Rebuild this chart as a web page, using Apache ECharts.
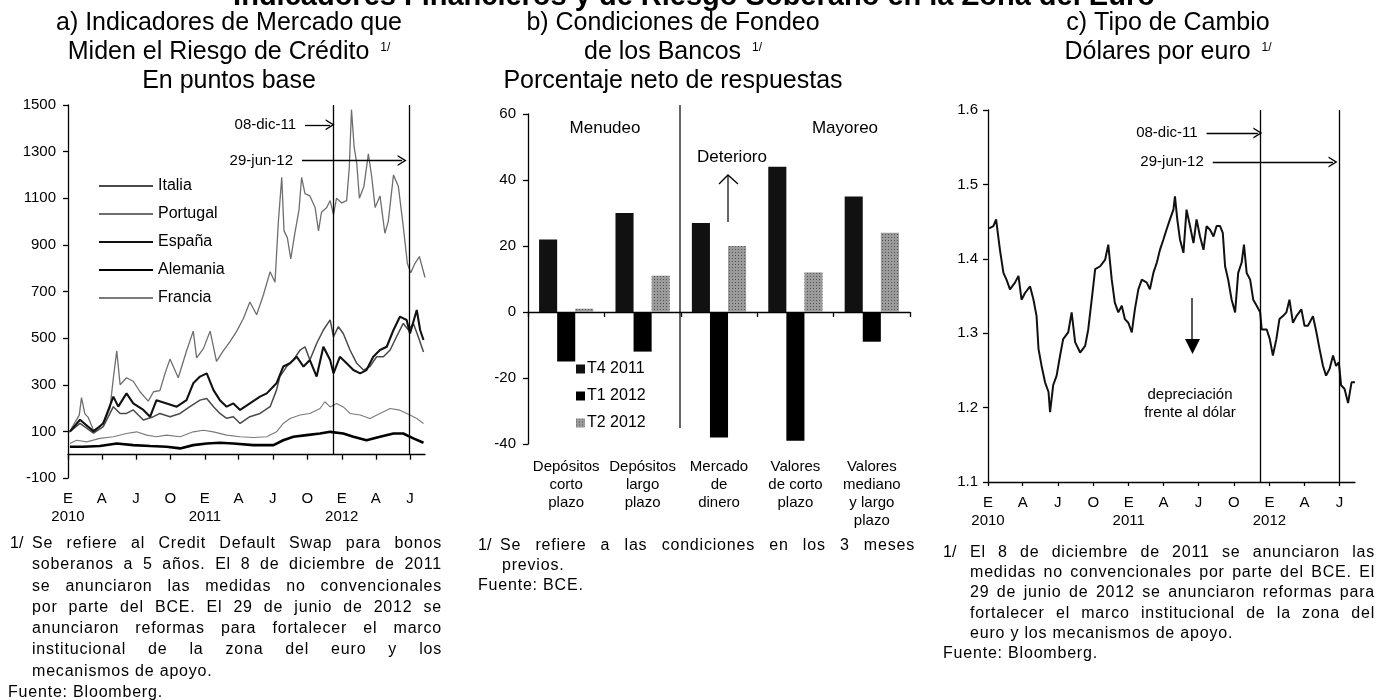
<!DOCTYPE html>
<html lang="es">
<head>
<meta charset="utf-8">
<title>Indicadores Financieros y de Riesgo Soberano en la Zona del Euro</title>
<script src="https://cdn.jsdelivr.net/npm/echarts@6.0.0/dist/echarts.min.js"></script>
<style>
  html, body { margin: 0; padding: 0; background: #fff; }
  #grafica { position: absolute; left: 0; top: 0; width: 1389px; height: 700px; }
  .nota { position: absolute; font-family: 'Liberation Sans', Arial, sans-serif; font-size: 16px; letter-spacing: 0.8px; color: #000; }
  .nota > div { text-align: justify; text-align-last: justify; }
  .nota > div.fin { text-align-last: left; }
  .nota .num { display: inline-block; width: 22px; letter-spacing: 0; }
</style>
</head>
<body>
<div id="grafica"></div>

<div class="nota" style="left:10px; top:532px; width:432px; line-height:21.3px">
  <div><span class="num">1/</span>Se refiere al Credit Default Swap para bonos</div>
  <div style="padding-left:22px">soberanos a 5 años. El 8 de diciembre de 2011</div>
  <div style="padding-left:22px">se anunciaron las medidas no convencionales</div>
  <div style="padding-left:22px">por parte del BCE. El 29 de junio de 2012 se</div>
  <div style="padding-left:22px">anunciaron reformas para fortalecer el marco</div>
  <div style="padding-left:22px">institucional de la zona del euro y los</div>
  <div class="fin" style="padding-left:22px">mecanismos de apoyo.</div>
  <div class="fin" style="margin-left:-2px">Fuente: Bloomberg.</div>
</div>

<div class="nota" style="left:478px; top:535px; width:437px; line-height:20px">
  <div><span class="num">1/</span>Se refiere a las condiciones en los 3 meses</div>
  <div class="fin" style="padding-left:24px">previos.</div>
  <div class="fin">Fuente: BCE.</div>
</div>

<div class="nota" style="left:943px; top:542px; width:432px; line-height:20.2px">
  <div><span class="num" style="width:27px">1/</span>El 8 de diciembre de 2011 se anunciaron las</div>
  <div style="padding-left:27px">medidas no convencionales por parte del BCE. El</div>
  <div style="padding-left:27px">29 de junio de 2012 se anunciaron reformas para</div>
  <div style="padding-left:27px">fortalecer el marco institucional de la zona del</div>
  <div class="fin" style="padding-left:27px">euro y los mecanismos de apoyo.</div>
  <div class="fin">Fuente: Bloomberg.</div>
</div>

<script>
// a) CDS soberanos a 5 años, puntos base
const portugal = [
  ['2010-01-04', 95], ['2010-01-20', 140], ['2010-01-31', 170], ['2010-02-06', 245], ['2010-02-15', 175],
  ['2010-02-24', 160], ['2010-03-10', 105], ['2010-03-27', 120], ['2010-04-10', 150], ['2010-04-23', 200],
  ['2010-05-02', 330], ['2010-05-11', 445], ['2010-05-20', 300], ['2010-06-06', 330], ['2010-06-24', 315],
  ['2010-07-12', 270], ['2010-08-03', 230], ['2010-08-17', 270], ['2010-09-03', 275], ['2010-09-17', 350],
  ['2010-09-30', 410], ['2010-10-22', 330], ['2010-11-13', 445], ['2010-12-01', 530], ['2010-12-10', 415],
  ['2010-12-28', 455], ['2011-01-15', 530], ['2011-02-01', 400], ['2011-02-19', 445], ['2011-03-09', 485],
  ['2011-03-27', 530], ['2011-04-14', 585], ['2011-05-01', 655], ['2011-05-19', 600], ['2011-06-06', 685],
  ['2011-06-24', 785], ['2011-07-07', 740], ['2011-07-16', 1000], ['2011-07-25', 1190], ['2011-07-31', 960],
  ['2011-08-09', 930], ['2011-08-18', 840], ['2011-08-29', 950], ['2011-09-09', 1050], ['2011-09-16', 1190],
  ['2011-09-25', 1120], ['2011-10-08', 1110], ['2011-10-22', 1060], ['2011-10-31', 960], ['2011-11-08', 1040],
  ['2011-11-22', 1060], ['2011-12-01', 1090], ['2011-12-10', 1030], ['2011-12-18', 1100], ['2012-01-01', 1080],
  ['2012-01-14', 1090], ['2012-01-21', 1230], ['2012-01-27', 1480], ['2012-02-03', 1320], ['2012-02-10', 1250],
  ['2012-02-17', 1100], ['2012-02-29', 1150], ['2012-03-12', 1290], ['2012-03-21', 1190], ['2012-03-30', 1060],
  ['2012-04-12', 1110], ['2012-04-25', 950], ['2012-05-04', 1000], ['2012-05-18', 1200], ['2012-05-31', 1150],
  ['2012-06-13', 980], ['2012-06-24', 820], ['2012-07-03', 780], ['2012-07-14', 820], ['2012-07-26', 850],
  ['2012-08-10', 760]
]
const italia = [
  ['2010-01-06', 99], ['2010-02-02', 134], ['2010-03-10', 92], ['2010-04-05', 120], ['2010-05-02', 206],
  ['2010-05-20', 177], ['2010-06-06', 177], ['2010-06-24', 192], ['2010-07-21', 149], ['2010-08-17', 163],
  ['2010-09-03', 177], ['2010-09-30', 163], ['2010-10-27', 177], ['2010-11-22', 206], ['2010-12-19', 234],
  ['2011-01-06', 241], ['2011-01-24', 206], ['2011-02-10', 177], ['2011-02-28', 156], ['2011-03-18', 163],
  ['2011-04-05', 134], ['2011-05-01', 163], ['2011-05-28', 177], ['2011-06-24', 206], ['2011-07-11', 277],
  ['2011-07-20', 335], ['2011-08-07', 378], ['2011-08-25', 406], ['2011-09-12', 449], ['2011-09-25', 463],
  ['2011-10-08', 406], ['2011-10-26', 477], ['2011-11-13', 535], ['2011-12-01', 578], ['2011-12-10', 506],
  ['2011-12-23', 549], ['2012-01-05', 520], ['2012-01-23', 449], ['2012-02-10', 392], ['2012-02-28', 363],
  ['2012-03-16', 378], ['2012-04-03', 420], ['2012-04-21', 420], ['2012-05-09', 449], ['2012-05-26', 506],
  ['2012-06-13', 563], ['2012-06-27', 535], ['2012-07-10', 563], ['2012-07-23', 506], ['2012-08-06', 440]
]
const espana = [
  ['2010-01-06', 99], ['2010-02-02', 150], ['2010-03-10', 100], ['2010-04-05', 134], ['2010-05-02', 249],
  ['2010-05-15', 206], ['2010-06-06', 263], ['2010-06-24', 220], ['2010-07-21', 192], ['2010-08-08', 163],
  ['2010-08-25', 234], ['2010-09-21', 220], ['2010-10-18', 206], ['2010-11-13', 234], ['2010-12-01', 306],
  ['2010-12-19', 335], ['2011-01-06', 349], ['2011-01-24', 277], ['2011-02-10', 234], ['2011-02-28', 206],
  ['2011-03-18', 220], ['2011-04-05', 192], ['2011-05-01', 220], ['2011-05-28', 249], ['2011-06-15', 263],
  ['2011-07-11', 306], ['2011-07-29', 378], ['2011-08-16', 392], ['2011-09-03', 420], ['2011-09-21', 378],
  ['2011-10-08', 406], ['2011-10-26', 335], ['2011-11-13', 463], ['2011-12-01', 406], ['2011-12-10', 349],
  ['2011-12-27', 420], ['2012-01-14', 392], ['2012-02-01', 363], ['2012-02-19', 349], ['2012-03-07', 363],
  ['2012-03-25', 420], ['2012-04-12', 449], ['2012-04-30', 463], ['2012-05-18', 535], ['2012-06-04', 592],
  ['2012-06-22', 578], ['2012-07-01', 520], ['2012-07-19', 621], ['2012-07-28', 535], ['2012-08-06', 492]
]
const alemania = [
  ['2010-01-06', 34], ['2010-02-10', 34], ['2010-03-27', 37], ['2010-05-11', 48], ['2010-06-24', 41],
  ['2010-08-08', 37], ['2010-09-21', 34], ['2010-10-27', 27], ['2010-12-01', 41], ['2011-01-06', 48],
  ['2011-02-10', 51], ['2011-03-18', 48], ['2011-05-10', 41], ['2011-07-03', 41], ['2011-07-29', 62],
  ['2011-08-25', 77], ['2011-09-29', 84], ['2011-11-04', 91], ['2011-12-01', 98], ['2012-01-05', 91],
  ['2012-02-01', 77], ['2012-03-07', 62], ['2012-04-12', 77], ['2012-05-18', 91], ['2012-06-13', 91],
  ['2012-07-10', 70], ['2012-08-06', 51]
]
const francia = [
  ['2010-01-06', 48], ['2010-01-24', 62], ['2010-02-20', 55], ['2010-03-27', 70], ['2010-05-02', 77],
  ['2010-06-06', 91], ['2010-07-03', 98], ['2010-07-30', 84], ['2010-08-25', 77], ['2010-09-21', 84],
  ['2010-10-27', 77], ['2010-12-01', 98], ['2010-12-28', 105], ['2011-01-24', 98], ['2011-02-28', 84],
  ['2011-04-05', 77], ['2011-05-10', 74], ['2011-06-15', 77], ['2011-07-11', 98], ['2011-07-29', 134],
  ['2011-08-16', 155], ['2011-09-12', 170], ['2011-10-08', 177], ['2011-11-04', 198], ['2011-11-17', 227],
  ['2011-12-01', 205], ['2011-12-18', 220], ['2012-01-05', 205], ['2012-01-23', 177], ['2012-02-19', 170],
  ['2012-03-16', 155], ['2012-04-12', 177], ['2012-05-09', 198], ['2012-06-04', 191], ['2012-07-01', 170],
  ['2012-07-19', 155], ['2012-08-06', 134]
]

// b) Condiciones de fondeo, porcentaje neto de respuestas
const categoriasFondeo = ['Depósitos\ncorto\nplazo', 'Depósitos\nlargo\nplazo', 'Mercado\nde\ndinero', 'Valores\nde corto\nplazo', 'Valores\nmediano\ny largo\nplazo']
const t4_2011 = [22, 30, 27, 44, 35]
const t1_2012 = [-15, -12, -38, -39, -9]
const t2_2012 = [1, 11, 20, 12, 24]

// c) Dólares por euro
const eurUsd = [
  ['2010-01-04', 1.441], ['2010-01-06', 1.439], ['2010-01-15', 1.444], ['2010-01-22', 1.453], ['2010-02-01', 1.412],
  ['2010-02-10', 1.381], ['2010-02-18', 1.372], ['2010-02-27', 1.359], ['2010-03-12', 1.368], ['2010-03-21', 1.377],
  ['2010-03-29', 1.345], ['2010-04-07', 1.354], ['2010-04-20', 1.363], ['2010-04-29', 1.345], ['2010-05-07', 1.323],
  ['2010-05-12', 1.279], ['2010-05-20', 1.256], ['2010-05-29', 1.234], ['2010-06-07', 1.221], ['2010-06-11', 1.194],
  ['2010-06-19', 1.230], ['2010-06-28', 1.243], ['2010-07-07', 1.270], ['2010-07-15', 1.292], ['2010-07-28', 1.301],
  ['2010-08-06', 1.328], ['2010-08-15', 1.288], ['2010-08-28', 1.274], ['2010-09-10', 1.283], ['2010-09-18', 1.305],
  ['2010-09-27', 1.345], ['2010-10-06', 1.386], ['2010-10-19', 1.390], ['2010-11-01', 1.399], ['2010-11-09', 1.419],
  ['2010-11-18', 1.372], ['2010-11-26', 1.341], ['2010-12-05', 1.328], ['2010-12-14', 1.337], ['2010-12-22', 1.319],
  ['2010-12-31', 1.314], ['2011-01-09', 1.301], ['2011-01-17', 1.332], ['2011-01-26', 1.359], ['2011-02-04', 1.372],
  ['2011-02-17', 1.368], ['2011-02-25', 1.359], ['2011-03-06', 1.381], ['2011-03-15', 1.395], ['2011-03-23', 1.412],
  ['2011-04-01', 1.426], ['2011-04-09', 1.439], ['2011-04-18', 1.453], ['2011-04-27', 1.466], ['2011-05-01', 1.484],
  ['2011-05-07', 1.453], ['2011-05-14', 1.426], ['2011-05-23', 1.408], ['2011-05-31', 1.466], ['2011-06-09', 1.444],
  ['2011-06-18', 1.421], ['2011-06-26', 1.453], ['2011-07-05', 1.430], ['2011-07-14', 1.412], ['2011-07-22', 1.444],
  ['2011-07-31', 1.439], ['2011-08-09', 1.430], ['2011-08-17', 1.444], ['2011-08-26', 1.444], ['2011-09-02', 1.435],
  ['2011-09-08', 1.390], ['2011-09-16', 1.372], ['2011-09-25', 1.345], ['2011-10-04', 1.328], ['2011-10-12', 1.381],
  ['2011-10-21', 1.395], ['2011-10-27', 1.419], ['2011-11-03', 1.381], ['2011-11-12', 1.372], ['2011-11-20', 1.345],
  ['2011-11-29', 1.337], ['2011-12-08', 1.328], ['2011-12-12', 1.305], ['2011-12-25', 1.305], ['2012-01-02', 1.292],
  ['2012-01-10', 1.270], ['2012-01-19', 1.292], ['2012-01-27', 1.319], ['2012-02-05', 1.323], ['2012-02-14', 1.328],
  ['2012-02-22', 1.345], ['2012-03-02', 1.314], ['2012-03-11', 1.323], ['2012-03-24', 1.332], ['2012-04-01', 1.310],
  ['2012-04-10', 1.310], ['2012-04-23', 1.323], ['2012-05-02', 1.301], ['2012-05-10', 1.279], ['2012-05-19', 1.256],
  ['2012-05-27', 1.243], ['2012-06-05', 1.252], ['2012-06-14', 1.270], ['2012-06-22', 1.256], ['2012-06-29', 1.261],
  ['2012-07-05', 1.230], ['2012-07-14', 1.225], ['2012-07-23', 1.206], ['2012-08-01', 1.234], ['2012-08-10', 1.234]
]

// eje temporal (trimestres) y fechas de anuncios
const trimestres = ['2010-01-01', '2010-04-01', '2010-07-01', '2010-10-01', '2011-01-01', '2011-04-01',
  '2011-07-01', '2011-10-01', '2012-01-01', '2012-04-01', '2012-07-01']
const letrasTrimestre = ['E', 'A', 'J', 'O']
const fechaMedidasBCE = '2011-12-08'
const fechaReformas = '2012-06-29'

;(function () {
  const FONT = "'Liberation Sans', Arial, Helvetica, sans-serif"
  const NARROW = "'Liberation Sans Narrow', 'Arial Narrow', 'Liberation Sans', Arial, sans-serif"
  /** fecha 'aaaa-mm-dd' → milisegundos (eje de valores) */
  const t = s => echarts.time.parse(s).getTime()
  const serie = arr => arr.map(([f, v]) => [t(f), v])
  const ticks = trimestres.map(t)
  const negro = {color: '#000', width: 1.3}
  const CHEVRON = 'path://M0,10 L5,0 L10,10 L8.6,10 L5,2.8 L1.4,10 Z'
  const chart = echarts.init(document.getElementById('grafica'))

  /** etiqueta E/A/J/O con el año bajo enero */
  function etiquetaTrimestre(value) {
    const d = new Date(value), m = d.getMonth()
    const letra = letrasTrimestre[Math.round(m / 3)]
    return m === 0 ? letra + '\n' + d.getFullYear() : letra
  }
  const labelTiempo = {customValues: ticks, formatter: etiquetaTrimestre, fontSize: 15, lineHeight: 18, color: '#000', fontFamily: FONT, margin: 12, hideOverlap: false}
  const ejeTiempo = (extra) => Object.assign({type: 'value', min: t('2010-01-01'), max: t('2012-08-10'), scale: true, splitLine: {show: false}}, extra)
  const ejeY = (extra) => Object.assign({
    type: 'value', axisLine: {show: true, lineStyle: negro}, axisTick: {show: true, length: 5, lineStyle: negro},
    axisLabel: {fontSize: 15, color: '#000', fontFamily: FONT, margin: 12, formatter: v => String(v)}, splitLine: {show: false},
  }, extra)
  const etiquetaFlecha = (txt) => ({show: true, position: 'start', formatter: txt, distance: 9, fontSize: 15, color: '#000', fontFamily: FONT})
  const lineaCds = (name, data, color, width) => ({
    name, type: 'line', data: serie(data), xAxisIndex: 1, yAxisIndex: 0, symbol: 'none', lineStyle: {color, width}, itemStyle: {color}, z: 3,
  })
  const flecha = (f1, f2, y, txt) => [{coord: [t(f1), y], label: etiquetaFlecha(txt)}, {coord: [t(f2), y], symbol: CHEVRON, symbolSize: [11, 9]}]
  const vertical = (f, y1, y2) => [{coord: [t(f), y1]}, {coord: [t(f), y2]}]
  const sup = {sup: {fontSize: 12, lineHeight: 12, verticalAlign: 'top', padding: [4, 0, 0, 4], color: '#000', fontFamily: FONT}}
  const estiloTitulo = {fontSize: 25, fontWeight: 'normal', lineHeight: 29, color: '#000', fontFamily: FONT, rich: sup}

  const option = {
    animation: false,
    textStyle: {fontFamily: FONT},
    title: [
      {text: 'Indicadores Financieros y de Riesgo Soberano en la Zona del Euro', left: 694, textAlign: 'center', top: -18, padding: 0,
        textStyle: {fontSize: 29, fontWeight: 'bold', color: '#000', fontFamily: FONT}},
      {text: 'a) Indicadores de Mercado que\nMiden el Riesgo de Crédito {sup|1/}\nEn puntos base', left: 229, textAlign: 'center', top: 9, padding: 0, textStyle: estiloTitulo},
      {text: 'b) Condiciones de Fondeo\nde los Bancos {sup|1/}\nPorcentaje neto de respuestas', left: 673, textAlign: 'center', top: 9, padding: 0, textStyle: estiloTitulo},
      {text: 'c) Tipo de Cambio\nDólares por euro {sup|1/}', left: 1168, textAlign: 'center', top: 9, padding: 0, textStyle: estiloTitulo},
    ],
    legend: [
      {data: ['Italia', 'Portugal', 'España', 'Alemania', 'Francia'], orient: 'vertical', left: 93, top: 173,
        itemWidth: 54, itemHeight: 14, itemGap: 12, selectedMode: false, itemStyle: {opacity: 0},
        textStyle: {fontSize: 16, color: '#000', fontFamily: FONT}},
      {data: ['T4 2011', 'T1 2012', 'T2 2012'], orient: 'vertical', left: 571, top: 356, icon: 'rect',
        itemWidth: 9, itemHeight: 9, itemGap: 11, selectedMode: false,
        textStyle: {fontSize: 16, color: '#000', fontFamily: FONT, padding: [0, 0, 0, -3]}},
    ],
    grid: [
      {left: 68, top: 105, width: 357, height: 373},
      {left: 528, top: 114, width: 382, height: 330},
      {left: 988, top: 110, width: 367, height: 372},
    ],
    xAxis: [
      ejeTiempo({gridIndex: 0, position: 'bottom', axisLine: {show: false, onZero: false}, axisTick: {show: false}, axisLabel: labelTiempo}),
      ejeTiempo({gridIndex: 0, position: 'bottom', axisLine: {show: true, onZero: true, lineStyle: negro},
        axisTick: {show: true, customValues: ticks, length: 5, lineStyle: negro}, axisLabel: {show: false}}),
      {type: 'category', gridIndex: 1, position: 'bottom', data: categoriasFondeo, axisLine: {show: false, onZero: false}, axisTick: {show: false},
        axisLabel: {interval: 0, fontSize: 15, lineHeight: 18, color: '#000', fontFamily: NARROW, margin: 14, hideOverlap: false}},
      {type: 'category', gridIndex: 1, position: 'bottom', data: categoriasFondeo, axisLine: {show: true, onZero: true, lineStyle: negro},
        axisTick: {show: true, length: 5, lineStyle: negro}, axisLabel: {show: false}},
      ejeTiempo({gridIndex: 2, position: 'bottom', axisLine: {show: true, onZero: false, lineStyle: negro},
        axisTick: {show: true, customValues: ticks, length: 4, lineStyle: negro}, axisLabel: labelTiempo}),
    ],
    yAxis: [
      ejeY({gridIndex: 0, min: -100, max: 1500, interval: 200}),
      ejeY({gridIndex: 1, min: -40, max: 60, interval: 20}),
      ejeY({gridIndex: 2, min: 1.1, max: 1.6, interval: 0.1, axisLabel: {fontSize: 15, color: '#000', fontFamily: FONT, margin: 10, formatter: v => v.toFixed(1)}}),
    ],
    series: [
      lineaCds('Portugal', portugal, '#6e6e6e', 1.3),
      lineaCds('Italia', italia, '#4a4a4a', 1.5),
      lineaCds('España', espana, '#111', 2.1),
      lineaCds('Francia', francia, '#7a7a7a', 1.1),
      Object.assign(lineaCds('Alemania', alemania, '#000', 2.6), {
        markLine: {
          silent: true, animation: false, symbol: ['none', 'none'], label: {show: false},
          lineStyle: {color: '#000', width: 1.3, type: 'solid'},
          data: [
            vertical(fechaMedidasBCE, 1500, 0),
            vertical(fechaReformas, 1500, 0),
            flecha('2011-09-25', '2011-12-01', 1415, '08-dic-11'),
            flecha('2011-09-17', '2012-06-10', 1262, '29-jun-12'),
          ],
        },
      }),
      {name: 'T4 2011', type: 'bar', xAxisIndex: 3, yAxisIndex: 1, data: t4_2011, barGap: '0%', barCategoryGap: '29%', itemStyle: {color: '#111'}},
      {name: 'T1 2012', type: 'bar', xAxisIndex: 3, yAxisIndex: 1, data: t1_2012, itemStyle: {color: '#000'}},
      {name: 'T2 2012', type: 'bar', xAxisIndex: 3, yAxisIndex: 1, data: t2_2012,
        itemStyle: {color: '#9b9b9b', decal: {symbol: 'rect', symbolSize: 1, dashArrayX: [1, 2], dashArrayY: [1, 2], rotation: 0, color: 'rgba(0,0,0,0.45)'}}},
      {
        name: 'Dólares por euro', type: 'line', data: serie(eurUsd), xAxisIndex: 4, yAxisIndex: 2, symbol: 'none',
        lineStyle: {color: '#111', width: 2}, itemStyle: {color: '#111'},
        markLine: {
          silent: true, animation: false, symbol: ['none', 'none'], label: {show: false},
          lineStyle: {color: '#000', width: 1.3, type: 'solid'},
          data: [
            vertical(fechaMedidasBCE, 1.6, 1.1),
            vertical(fechaReformas, 1.6, 1.1),
            flecha('2011-07-22', '2011-12-02', 1.569, '08-dic-11'),
            flecha('2011-08-07', '2012-06-14', 1.530, '29-jun-12'),
          ],
        },
      },
    ],
    graphic: [
      // separador menudeo / mayoreo
      {type: 'line', shape: {x1: 680, y1: 105, x2: 680, y2: 428}, style: {stroke: '#000', lineWidth: 1.2}, silent: true},
      {type: 'text', x: 605, y: 128, style: {text: 'Menudeo', font: '17px ' + FONT, fill: '#000', align: 'center', verticalAlign: 'middle'}},
      {type: 'text', x: 845, y: 128, style: {text: 'Mayoreo', font: '17px ' + FONT, fill: '#000', align: 'center', verticalAlign: 'middle'}},
      {type: 'text', x: 732, y: 157, style: {text: 'Deterioro', font: '17px ' + FONT, fill: '#000', align: 'center', verticalAlign: 'middle'}},
      {type: 'line', shape: {x1: 728, y1: 222, x2: 728, y2: 176}, style: {stroke: '#000', lineWidth: 1.2}},
      {type: 'polyline', shape: {points: [[719, 184], [728, 175], [738, 184]]}, style: {stroke: '#000', lineWidth: 1.3, fill: null}},
      // depreciación frente al dólar
      {type: 'text', x: 1190, y: 395, style: {text: 'depreciación', font: '15px ' + FONT, fill: '#000', align: 'center', verticalAlign: 'middle'}},
      {type: 'text', x: 1190, y: 413, style: {text: 'frente al dólar', font: '15px ' + FONT, fill: '#000', align: 'center', verticalAlign: 'middle'}},
      {type: 'line', shape: {x1: 1192, y1: 298, x2: 1192, y2: 340}, style: {stroke: '#000', lineWidth: 1.3}},
      {type: 'polygon', shape: {points: [[1185, 339], [1200, 339], [1192.5, 354]]}, style: {fill: '#000'}},
    ],
  }
  chart.setOption(option)
})()
</script>
</body>
</html>
